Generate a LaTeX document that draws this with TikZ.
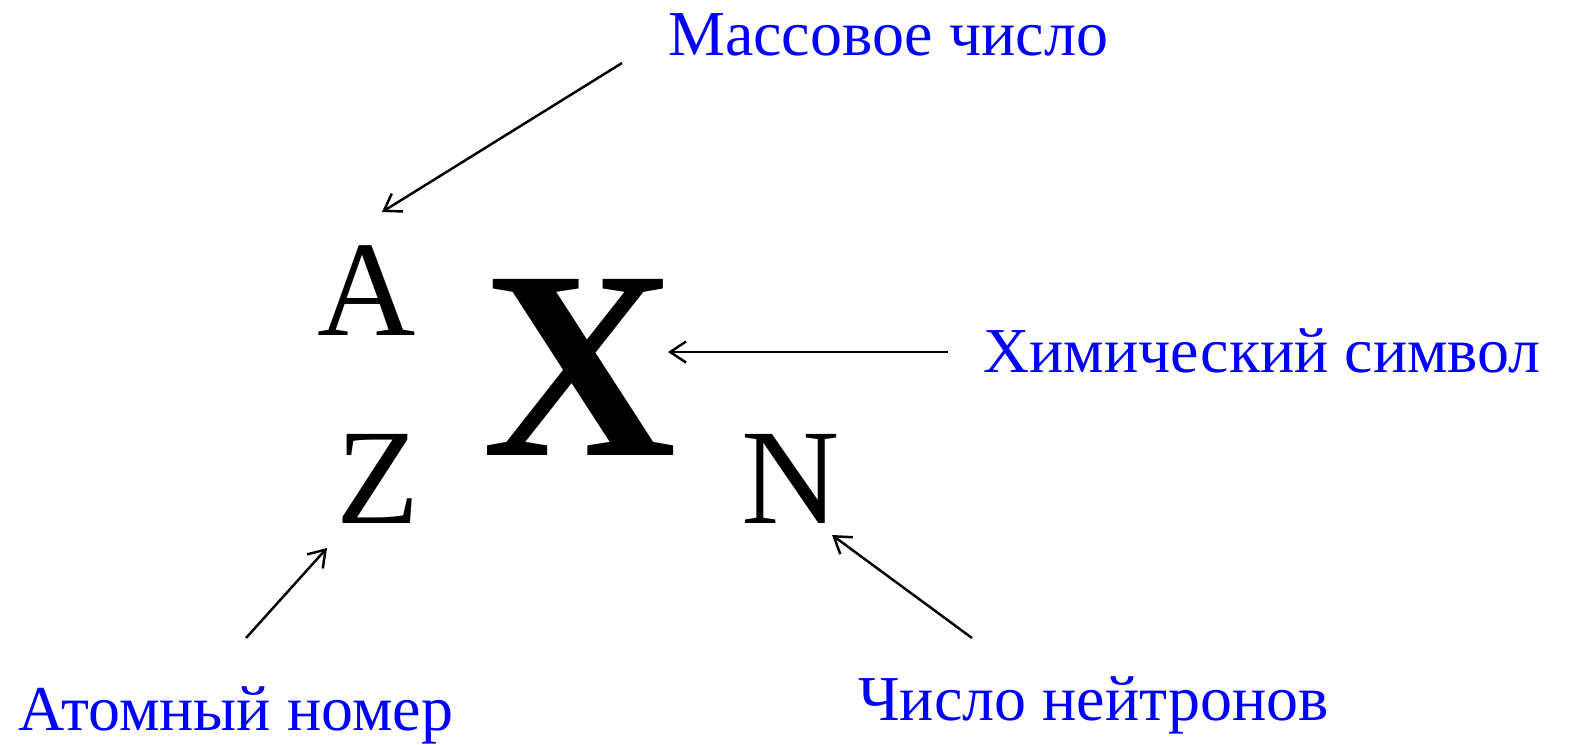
\documentclass[tikz,border=0pt]{standalone}
\usepackage{fontspec}
\setmainfont{Liberation Serif}
\usetikzlibrary{arrows.meta}
\tikzset{
  caption/.style={text=blue, inner sep=0pt, anchor=base west, font=\fontsize{18.2}{20}\selectfont},
  nuclide/.style={inner sep=0pt, anchor=base west, font=\fontsize{38.7}{40}\selectfont},
}
\begin{document}
\begin{tikzpicture}[x=0.01cm, y=-0.01cm, >={Straight Barb[length=4.5pt,width=6pt]}, line width=0.7pt]
  \useasboundingbox (0,0) rectangle (1570,744);
  % symbol with its numbers
  \node[nuclide] (mass num) at (316,335) {A};
  \node[nuclide] (atom num) at (335,523) {Z};
  \node[nuclide] (neutron num) at (740,523) {N};
  \node[inner sep=0pt, anchor=base west, font=\fontsize{76.5}{78}\bfseries] (symb) at (481,455) {X};

  % captions
  \node[caption] (mass) at (667,55) {Массовое число};
  \node[caption] (chem) at (982,372) {Химический символ};
  \node[caption] (atom) at (17,730) {Атомный номер};
  \node[caption] (neutron) at (857,720) {Число нейтронов};

  % arrow ends
  \coordinate (mass from) at (622,63);   \coordinate (mass to) at (382,212);
  \coordinate (chem from) at (948,352);  \coordinate (chem to) at (668,352);
  \coordinate (atom from) at (246,638);  \coordinate (atom to) at (327,548);
  \coordinate (neut from) at (972,638);  \coordinate (neut to) at (832,535);

  \draw[->] (mass from) -- (mass to);
  \draw[->] (chem from) -- (chem to);
  \draw[->] (atom from) -- (atom to);
  \draw[->] (neut from) -- (neut to);
\end{tikzpicture}
\end{document}
